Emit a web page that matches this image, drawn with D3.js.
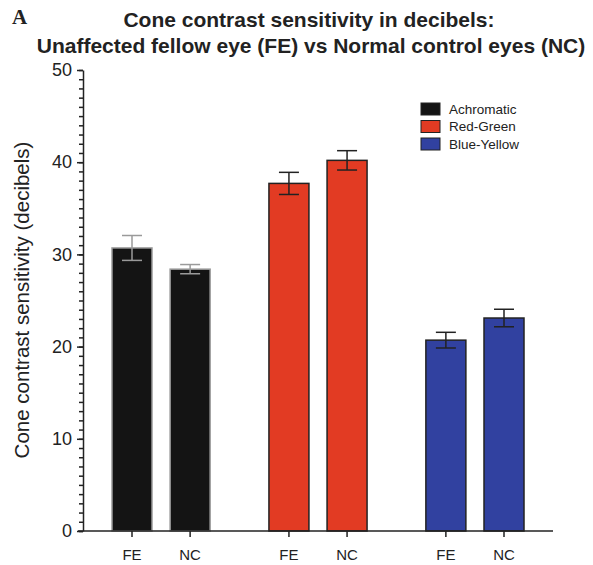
<!DOCTYPE html>
<html>
<head>
<meta charset="utf-8">
<script src="https://cdn.jsdelivr.net/npm/d3@7"></script>
<style>
body { margin: 0; background: #fff; }
text { font-family: "Liberation Sans", Arial, sans-serif; fill: #222; }
</style>
</head>
<body>
<svg id="chart" width="593" height="565"></svg>
<script>
// groups and bars
var groups = ["Achromatic", "Red-Green", "Blue-Yellow"];
var barLabels = ["FE", "NC", "FE", "NC", "FE", "NC"];
var barGroup = [0, 0, 1, 1, 2, 2];
var means = [30.7, 28.4, 37.7, 40.2, 20.7, 23.1];
var errs = [1.35, 0.5, 1.2, 1.05, 0.85, 0.95];
var colors = ["#141414", "#e23b23", "#3141a0"];
var strokes = ["#9a9a9a", "#222", "#222"];
var errColors = ["#9a9a9a", "#222", "#222"];
var yTicks = [0, 10, 20, 30, 40, 50];

var svg = d3.select("#chart");

// x positions of bar centres (px) come from a linear scale over slot index
var slots = [0, 1, 2.7, 3.7, 5.4, 6.4];
var x = d3.scaleLinear().domain([0, 6.4]).range([132, 504]);
var y = d3.scaleLinear().domain([0, 50]).range([531, 70]);
var barW = 40;

// bars
var bar = svg.append("g");
bar.selectAll("rect")
    .data(means)
    .enter().append("rect")
    .attr("x", function (d, i) { return x(slots[i]) - barW / 2; })
    .attr("y", function (d) { return y(d); })
    .attr("width", barW)
    .attr("height", function (d) { return y(0) - y(d); })
    .style("fill", function (d, i) { return colors[barGroup[i]]; })
    .style("stroke", function (d, i) { return strokes[barGroup[i]]; })
    .style("stroke-width", 1.5);

// error bars
var eb = svg.append("g");
means.forEach(function (m, i) {
    var cx = x(slots[i]);
    var c = errColors[barGroup[i]];
    eb.append("line").attr("x1", cx).attr("x2", cx)
        .attr("y1", y(m + errs[i])).attr("y2", y(m - errs[i]))
        .style("stroke", c).style("stroke-width", 1.5);
    [m + errs[i], m - errs[i]].forEach(function (v) {
        eb.append("line").attr("x1", cx - 10).attr("x2", cx + 10)
            .attr("y1", y(v)).attr("y2", y(v))
            .style("stroke", c).style("stroke-width", 1.5);
    });
});

// y axis with minor ticks
var minor = d3.range(0, 51, 1);
var yMinor = svg.append("g").attr("transform", "translate(83,0)")
    .call(d3.axisLeft(y).tickValues(minor).tickSize(4).tickFormat(""));
yMinor.select(".domain").remove();
var yAxis = svg.append("g").attr("transform", "translate(83,0)")
    .call(d3.axisLeft(y).tickValues(yTicks).tickSize(6).tickSizeOuter(0).tickPadding(5));
yAxis.selectAll("text").style("font-size", "18px");
svg.selectAll(".tick line, .domain").style("stroke", "#222").style("stroke-width", 1.5);

// x axis
svg.append("line").attr("x1", 78).attr("x2", 553)
    .attr("y1", y(0)).attr("y2", y(0))
    .style("stroke", "#222").style("stroke-width", 1.5);
svg.append("g").selectAll("line")
    .data(slots).enter().append("line")
    .attr("x1", function (d) { return x(d); })
    .attr("x2", function (d) { return x(d); })
    .attr("y1", y(0)).attr("y2", y(0) + 6)
    .style("stroke", "#222").style("stroke-width", 1.5);
svg.append("g").selectAll("text")
    .data(barLabels).enter().append("text")
    .attr("x", function (d, i) { return x(slots[i]); })
    .attr("y", 560)
    .attr("text-anchor", "middle")
    .style("font-size", "15px")
    .text(function (d) { return d; });

// y label
svg.append("text")
    .attr("transform", "translate(29,300) rotate(-90)")
    .attr("text-anchor", "middle")
    .style("font-size", "20.5px")
    .text("Cone contrast sensitivity (decibels)");

// title
svg.append("text").attr("x", 309).attr("y", 27).attr("text-anchor", "middle")
    .style("font-size", "21px").style("font-weight", "bold")
    .text("Cone contrast sensitivity in decibels:");
svg.append("text").attr("x", 311).attr("y", 53).attr("text-anchor", "middle")
    .style("font-size", "21px").style("font-weight", "bold")
    .text("Unaffected fellow eye (FE) vs Normal control eyes (NC)");
svg.append("text").attr("x", 12).attr("y", 24)
    .style("font-family", "'Liberation Serif', serif")
    .style("font-size", "21px").style("font-weight", "bold")
    .text("A");

// legend
var leg = svg.append("g").attr("transform", "translate(421,103)");
groups.forEach(function (g, i) {
    leg.append("rect").attr("x", 0).attr("y", i * 17.5)
        .attr("width", 19).attr("height", 12)
        .style("fill", colors[i]).style("stroke", "#222").style("stroke-width", 1);
    leg.append("text").attr("x", 28).attr("y", i * 17.5 + 10.5)
        .style("font-size", "13.5px")
        .text(g);
});
</script>
</body>
</html>
